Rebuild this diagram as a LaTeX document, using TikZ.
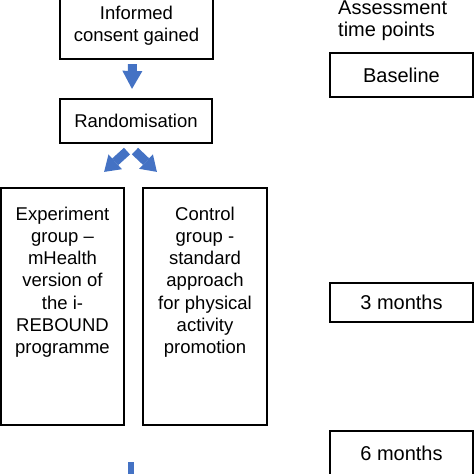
\documentclass[tikz,border=0pt]{standalone}
\usepackage{fontspec}
\setmainfont{Liberation Sans}
\usetikzlibrary{arrows.meta}
\definecolor{arrowblue}{RGB}{68,114,196}
\begin{document}
\begin{tikzpicture}[x=1pt,y=-1pt,
  box/.style={draw=black, line width=2.2pt, inner sep=0pt, align=center, font=\fontsize{18.5}{22.3}\selectfont},
  rbox/.style={box, font=\fontsize{20}{22}\selectfont},
  txt/.style={inner sep=0pt, font=\fontsize{18.5}{22.3}\selectfont},
  blockarrow/.style={draw=arrowblue, line width=9pt, -{Triangle[width=20pt,length=#1,line width=0pt]}},
  blockarrow/.default=18pt]
\useasboundingbox (0,0) rectangle (474,474);
\clip (0,0) rectangle (474,474);
\fill[white] (0,0) rectangle (474,474);

\node[box, minimum width=153pt, minimum height=66pt] (consent) at (136.5,26) {Informed\\consent gained};
\node[box, minimum width=152pt, minimum height=44pt] (random) at (136,121) {Randomisation};
\node[box, minimum width=123pt, minimum height=237pt] (exp) at (62.5,306.5) {};
\node[txt, anchor=north, align=center] (exptext) at (62.5,206.4) {Experiment\\group --\\mHealth\\version of\\the i-\\REBOUND\\programme};
\node[box, minimum width=124pt, minimum height=237pt] (ctrl) at (205,306.5) {};
\node[txt, anchor=north, align=center] (ctrltext) at (205,206.4) {Control\\group -\\standard\\approach\\for physical\\activity\\promotion};

\node[txt, font=\fontsize{20}{22}\selectfont, anchor=west, align=left] (assess) at (338,20.5) {Assessment\\time points};
\node[rbox, minimum width=143pt, minimum height=44pt] (base) at (401.5,75) {Baseline};
\node[rbox, minimum width=143pt, minimum height=39pt] (m3) at (401.5,302.5) {3 months};
\node[rbox, minimum width=143pt, minimum height=44pt] (m6) at (401.5,453) {6 months};

\draw[blockarrow] ([xshift=-4pt,yshift=-4pt]consent.south) -- ([xshift=-4pt,yshift=9pt]random.north);
\draw[blockarrow=15pt] ([xshift=-9pt,yshift=-7pt]random.south) -- ([xshift=-21pt,yshift=15pt]exp.north east);
\draw[blockarrow=15pt] ([xshift=-1pt,yshift=-7pt]random.south) -- ([xshift=15pt,yshift=15pt]ctrl.north west);

\coordinate (barstart) at (131,462);
\coordinate (barend) at (131,480);
\draw[arrowblue, line width=6pt] (barstart) -- (barend);
\end{tikzpicture}
\end{document}
